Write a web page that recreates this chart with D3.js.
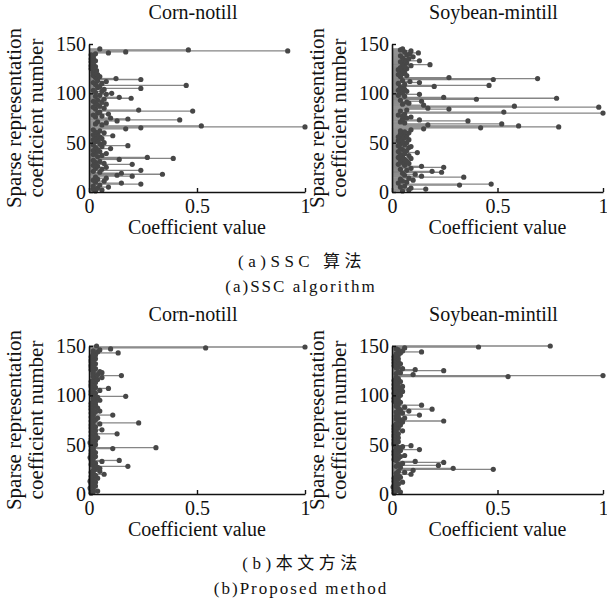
<!DOCTYPE html>
<html>
<head>
<meta charset="utf-8">
<script src="https://cdn.jsdelivr.net/npm/d3@7"></script>
<style>
  body { margin: 0; background: #fff; }
  text { font-family: "Liberation Serif", "Noto Sans CJK SC", serif; fill: #111; }
</style>
</head>
<body>
<svg id="canvas" width="607" height="609"></svg>
<script>
// coefficient values, index 1..n
var sscCorn = [
  0.03, 0.06, 0.02, 0.04, 0.09, 0.02, 0.05, 0.24, 0.15, 0.03,
  0.07, 0.02, 0.04, 0.08, 0.03, 0.20, 0.13, 0.34, 0.15, 0.05,
  0.02, 0.24, 0.06, 0.03, 0.08, 0.04, 0.02, 0.20, 0.07, 0.03,
  0.05, 0.02, 0.14, 0.39, 0.27, 0.04, 0.06, 0.02, 0.08, 0.03,
  0.05, 0.02, 0.04, 0.10, 0.03, 0.06, 0.18, 0.02, 0.05, 0.07,
  0.03, 0.04, 0.02, 0.06, 0.03, 0.05, 0.11, 0.02, 0.04, 0.07,
  0.03, 0.05, 0.02, 0.17, 0.24, 1.00, 0.52, 0.06, 0.03, 0.08,
  0.04, 0.13, 0.42, 0.18, 0.10, 0.03, 0.06, 0.02, 0.09, 0.04,
  0.05, 0.48, 0.23, 0.03, 0.07, 0.02, 0.05, 0.04, 0.08, 0.03,
  0.06, 0.02, 0.04, 0.07, 0.195, 0.14, 0.03, 0.05, 0.08, 0.105,
  0.03, 0.06, 0.02, 0.07, 0.24, 0.04, 0.05, 0.45, 0.03, 0.06,
  0.02, 0.08, 0.04, 0.24, 0.125, 0.03, 0.05, 0.02, 0.04, 0.03,
  0.02, 0.03, 0.035, 0.02, 0.01, 0.02, 0.03, 0.01, 0.02, 0.015,
  0.02, 0.01, 0.03, 0.02, 0.01, 0.02, 0.015, 0.02, 0.01, 0.03,
  0.09, 0.17, 0.92, 0.46, 0.05
];
var sscSoy = [
  0.05, 0.08, 0.16, 0.09, 0.04, 0.06, 0.32, 0.47, 0.03, 0.07,
  0.05, 0.10, 0.04, 0.08, 0.34, 0.14, 0.06, 0.11, 0.05, 0.235,
  0.19, 0.07, 0.04, 0.09, 0.245, 0.14, 0.06, 0.03, 0.08, 0.05,
  0.07, 0.04, 0.06, 0.09, 0.03, 0.05, 0.08, 0.04, 0.06, 0.12,
  0.03, 0.07, 0.05, 0.04, 0.08, 0.09, 0.03, 0.06, 0.04, 0.07,
  0.05, 0.03, 0.08, 0.04, 0.06, 0.03, 0.07, 0.05, 0.04, 0.08,
  0.06, 0.04, 0.09, 0.15, 0.42, 0.79, 0.60, 0.17, 0.52, 0.06,
  0.04, 0.36, 0.13, 0.05, 0.07, 0.09, 0.05, 0.03, 0.06, 1.00,
  0.53, 0.04, 0.07, 0.27, 0.17, 0.98, 0.58, 0.15, 0.05, 0.08,
  0.07, 0.14, 0.04, 0.40, 0.78, 0.245, 0.06, 0.03, 0.13, 0.05,
  0.04, 0.07, 0.03, 0.06, 0.05, 0.04, 0.20, 0.46, 0.06, 0.03,
  0.13, 0.085, 0.05, 0.48, 0.69, 0.27, 0.04, 0.07, 0.03, 0.05,
  0.06, 0.04, 0.05, 0.03, 0.07, 0.04, 0.06, 0.09, 0.18, 0.05,
  0.07, 0.04, 0.13, 0.06, 0.08, 0.05, 0.10, 0.04, 0.07, 0.085,
  0.125, 0.06, 0.09, 0.04, 0.05
];
var oursCorn = [
  0.01, 0.02, 0.04, 0.01, 0.02, 0.005, 0.01, 0.03, 0.01, 0.02,
  0.01, 0.03, 0.005, 0.02, 0.01, 0.04, 0.02, 0.01, 0.03, 0.07,
  0.02, 0.01, 0.05, 0.02, 0.03, 0.05, 0.04, 0.18, 0.02, 0.01,
  0.03, 0.02, 0.06, 0.14, 0.01, 0.02, 0.005, 0.03, 0.01, 0.02,
  0.01, 0.03, 0.02, 0.01, 0.02, 0.11, 0.31, 0.02, 0.01, 0.03,
  0.02, 0.005, 0.01, 0.03, 0.02, 0.01, 0.04, 0.02, 0.01, 0.03,
  0.13, 0.02, 0.01, 0.03, 0.06, 0.02, 0.01, 0.03, 0.02, 0.01,
  0.05, 0.23, 0.02, 0.01, 0.03, 0.02, 0.04, 0.01, 0.02, 0.11,
  0.02, 0.01, 0.03, 0.05, 0.02, 0.01, 0.04, 0.02, 0.01, 0.03,
  0.02, 0.01, 0.03, 0.02, 0.05, 0.03, 0.02, 0.04, 0.17, 0.02,
  0.01, 0.03, 0.02, 0.01, 0.05, 0.02, 0.09, 0.03, 0.01, 0.02,
  0.01, 0.02, 0.03, 0.01, 0.02, 0.04, 0.03, 0.06, 0.02, 0.15,
  0.04, 0.02, 0.06, 0.05, 0.02, 0.01, 0.03, 0.02, 0.01, 0.02,
  0.01, 0.03, 0.02, 0.01, 0.02, 0.01, 0.03, 0.02, 0.01, 0.02,
  0.03, 0.02, 0.135, 0.04, 0.02, 0.05, 0.10, 0.54, 1.00, 0.035
];
var oursSoy = [
  0.01, 0.04, 0.02, 0.01, 0.03, 0.02, 0.005, 0.02, 0.01, 0.03,
  0.02, 0.05, 0.01, 0.02, 0.03, 0.01, 0.04, 0.02, 0.03, 0.09,
  0.02, 0.06, 0.03, 0.10, 0.48, 0.29, 0.04, 0.02, 0.22, 0.03,
  0.05, 0.245, 0.11, 0.02, 0.01, 0.03, 0.02, 0.04, 0.06, 0.01,
  0.02, 0.03, 0.01, 0.04, 0.13, 0.02, 0.03, 0.05, 0.09, 0.01,
  0.02, 0.01, 0.03, 0.02, 0.01, 0.02, 0.03, 0.01, 0.02, 0.01,
  0.03, 0.02, 0.01, 0.05, 0.02, 0.01, 0.03, 0.02, 0.01, 0.04,
  0.02, 0.03, 0.05, 0.245, 0.04, 0.02, 0.06, 0.03, 0.02, 0.13,
  0.03, 0.05, 0.02, 0.08, 0.04, 0.19, 0.03, 0.06, 0.02, 0.14,
  0.03, 0.02, 0.04, 0.01, 0.03, 0.02, 0.01, 0.03, 0.02, 0.04,
  0.02, 0.01, 0.03, 0.05, 0.02, 0.04, 0.01, 0.03, 0.05, 0.02,
  0.01, 0.03, 0.02, 0.04, 0.01, 0.02, 0.03, 0.02, 0.55, 1.00,
  0.10, 0.02, 0.04, 0.03, 0.245, 0.11, 0.05, 0.02, 0.03, 0.01,
  0.02, 0.04, 0.01, 0.03, 0.02, 0.01, 0.03, 0.02, 0.01, 0.02,
  0.03, 0.02, 0.04, 0.14, 0.05, 0.03, 0.02, 0.06, 0.41, 0.75
];

var classNames = ["Corn-notill", "Soybean-mintill"];
var xTicks = [0, 0.5, 1];
var yTicks = [0, 50, 100, 150];
var captions = [["(a)SSC 算法", "(a)SSC algorithm"], ["(b)本文方法", "(b)Proposed method"]];

var svg = d3.select("#canvas");
var serif = "'Liberation Serif', 'Noto Sans CJK SC', serif";

// panel frames: left / right end of x axis, top / bottom of y axis
var cols = [{ x0: 89, x1: 305 }, { x0: 392, x1: 603 }];
var rows = [{ top: 44, bottom: 192 }, { top: 346, bottom: 494 }];

var panels = [
  { row: 0, col: 0, data: sscCorn },
  { row: 0, col: 1, data: sscSoy },
  { row: 1, col: 0, data: oursCorn },
  { row: 1, col: 1, data: oursSoy }
];

panels.forEach(function (p) {
  var c = cols[p.col], r = rows[p.row];
  var x = d3.scaleLinear().domain([0, 1]).range([c.x0, c.x1]);
  var y = d3.scaleLinear().domain([0, 150]).range([r.bottom, r.top]);
  var g = svg.append("g");

  var pts = p.data.map(function (v, i) { return { idx: i + 1, v: v }; });

  // stems
  g.selectAll("line.stem")
    .data(pts)
    .enter()
    .append("line")
    .attr("class", "stem")
    .attr("x1", x(0))
    .attr("x2", function (d) { return x(d.v); })
    .attr("y1", function (d) { return y(d.idx); })
    .attr("y2", function (d) { return y(d.idx); })
    .attr("stroke", "#858585")
    .attr("stroke-width", 1.3);

  // markers
  g.selectAll("circle")
    .data(pts)
    .enter()
    .append("circle")
    .attr("cx", function (d) { return x(d.v); })
    .attr("cy", function (d) { return y(d.idx); })
    .attr("r", 2.6)
    .attr("fill", "#474747");

  // axes, ticks pointing inward like matlab
  var xAxis = g.append("g")
    .attr("transform", "translate(0," + r.bottom + ")")
    .call(d3.axisBottom(x).tickValues(xTicks).tickSizeInner(-4).tickSizeOuter(0).tickPadding(7)
      .tickFormat(function (d) { return d; }));
  var yAxis = g.append("g")
    .attr("transform", "translate(" + c.x0 + ",0)")
    .call(d3.axisLeft(y).tickValues(yTicks).tickSizeInner(-4).tickSizeOuter(0).tickPadding(3));

  [xAxis, yAxis].forEach(function (a) {
    a.select(".domain").attr("stroke", "#111").attr("stroke-width", 1.6);
    a.selectAll(".tick line").attr("stroke", "#111").attr("stroke-width", 1.4);
    a.selectAll("text").attr("font-size", "20px")
      .attr("font-family", serif).attr("fill", "#111");
  });

  // title
  g.append("text")
    .attr("x", (c.x0 + c.x1) / 2 - 4)
    .attr("y", r.top - 25)
    .attr("text-anchor", "middle")
    .attr("font-family", serif)
    .attr("font-size", "20px")
    .text(classNames[p.col]);

  // x label
  g.append("text")
    .attr("x", (c.x0 + c.x1) / 2)
    .attr("y", r.bottom + 42)
    .attr("text-anchor", "middle")
    .attr("font-family", serif)
    .attr("font-size", "20px")
    .text("Coefficient value");

  // y label, two lines
  var ly = (r.top + r.bottom) / 2;
  g.append("text")
    .attr("transform", "translate(" + (c.x0 - 68) + "," + ly + ") rotate(-90)")
    .attr("text-anchor", "middle")
    .attr("font-family", serif)
    .attr("font-size", "21px")
    .text("Sparse representation");
  g.append("text")
    .attr("transform", "translate(" + (c.x0 - 46) + "," + ly + ") rotate(-90)")
    .attr("text-anchor", "middle")
    .attr("font-family", serif)
    .attr("font-size", "21px")
    .text("coefficient number");
});

// captions under each row
rows.forEach(function (r, i) {
  svg.append("text")
    .attr("x", 302)
    .attr("y", r.bottom + 75)
    .attr("text-anchor", "middle")
    .attr("font-family", serif)
    .attr("font-size", "17px")
    .attr("letter-spacing", "4.5px")
    .text(captions[i][0]);
  svg.append("text")
    .attr("x", 301)
    .attr("y", r.bottom + 100)
    .attr("text-anchor", "middle")
    .attr("font-family", serif)
    .attr("font-size", "17px")
    .attr("letter-spacing", "2px")
    .text(captions[i][1]);
});
</script>
</body>
</html>
